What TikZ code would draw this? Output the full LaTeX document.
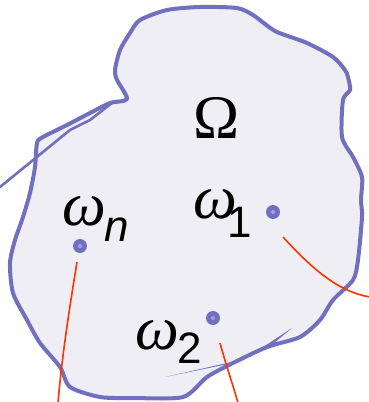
\documentclass[tikz,border=0pt]{standalone}
\usepackage{fontspec}
\newfontfamily\sans{Liberation Sans}
\newfontfamily\tms{Liberation Serif}
\definecolor{bnd}{HTML}{7070BE}
\definecolor{bfill}{HTML}{EFEEF5}
\definecolor{redl}{HTML}{FF3300}
\definecolor{dotin}{HTML}{A0A0F0}
\begin{document}
\begin{tikzpicture}[x=1pt,y=-1pt,
  border/.style={draw=bnd,line width=4pt,line join=round,line cap=round},
  pt/.style={circle,fill=bnd,inner sep=0pt,minimum size=14pt},
  ptin/.style={circle,fill=dotin,inner sep=0pt,minimum size=4pt},
  redline/.style={draw=redl,line width=1.6pt},
  om/.style={inner sep=0pt,anchor=base west,font=\tms\itshape\fontsize{62}{66}\selectfont},
  sub/.style={inner sep=0pt,anchor=base west,font=\sans\fontsize{44}{48}\selectfont}]
\useasboundingbox (0,0) rectangle (369,402);
% region
\path[border,fill=bfill] plot[smooth cycle,tension=0.45] coordinates {
 (127,99) (117,80) (115,70) (120,50) (130,33) (140,20) (167,10) (200,7) (237,8)
 (253,15) (265,24) (277,32) (307,43) (333,57) (345,70) (348,77) (350,90) (343,100)
 (342,137) (353,157) (362,177) (361,200) (362,217) (358,260) (353,280) (333,300)
 (320,320) (300,337) (267,347) (233,363) (207,377) (183,397) (133,398) (100,397)
 (70,387) (60,367) (40,343) (27,320) (13,293) (10,263) (15,240) (23,217)
 (30,193) (35,167) (37,143) (43,137) (67,125) (90,113) (110,103)};
% stray strokes
\draw[draw=bnd,line width=2.6pt,line cap=round] (0,187) -- (70,130) -- (90,120) -- (112,103);
\fill[bnd] (165,377) -- (245,359) -- (292,328) -- (268,348) -- (238,362) -- cycle;
% Omega
\node[inner sep=0pt,anchor=base,font=\tms\fontsize{62}{66}\selectfont] (Om) at (217,138) {Ω};
% labels
\node[om] (wn) at (62,225) {ω};
\node[sub] (sn) at (104,241) {\itshape n};
\node[om] (w1) at (193,218) {ω};
\node[sub] (s1) at (227,237) {1};
\node[om] (w2) at (135,349) {ω};
\node[sub] (s2) at (177,363) {2};
% dots
\node[pt] (pn) at (80,246) {};
\node[ptin] at (pn) {};
\node[pt] (p1) at (273,212) {};
\node[ptin] at (p1) {};
\node[pt] (p2) at (213,318) {};
\node[ptin] at (p2) {};
% red lines
\coordinate (an) at (77,262);
\coordinate (bn) at (58,403);
\coordinate (a1) at (283,237);
\coordinate (b1) at (370,297);
\coordinate (a2) at (220,343);
\coordinate (b2) at (238,403);
\draw[redline] (an) .. controls (70,305) and (62,355) .. (bn);
\draw[redline] (a1) .. controls (315,272) and (340,292) .. (b1);
\draw[redline] (a2) .. controls (226,365) and (233,385) .. (b2);
\end{tikzpicture}
\end{document}
